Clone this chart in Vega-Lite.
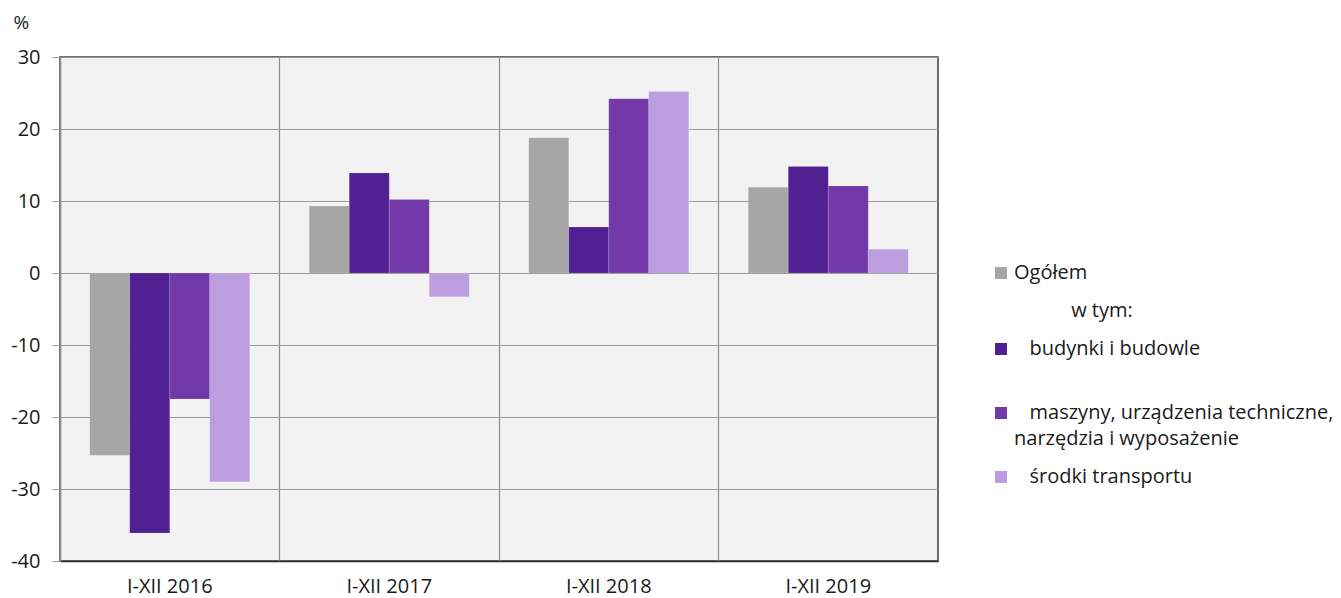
{
  "$schema": "https://vega.github.io/schema/vega-lite/v6.json",
  "width": 878,
  "height": 504,
  "autosize": {"type": "none"},
  "padding": {"left": 60, "top": 57, "right": 403, "bottom": 37},
  "background": "#ffffff",
  "config": {
    "font": "Open Sans",
    "view": {"fill": "#f2f2f2", "stroke": "#3c3c3c", "strokeWidth": 1.5},
    "axis": {"labelFont": "Open Sans", "labelFontSize": 20, "labelColor": "#1a1a1a", "titleFont": "Open Sans"},
    "style": {"guide-label": {"lineHeight": 26}}
  },
  "data": {
    "values": [
      {"okres": "I-XII 2016", "seria": "Ogółem", "wartosc": -25.3},
      {"okres": "I-XII 2016", "seria": "budynki i budowle", "wartosc": -36.1},
      {"okres": "I-XII 2016", "seria": "maszyny, urządzenia techniczne, narzędzia i wyposażenie", "wartosc": -17.5},
      {"okres": "I-XII 2016", "seria": "środki transportu", "wartosc": -29.0},
      {"okres": "I-XII 2017", "seria": "Ogółem", "wartosc": 9.3},
      {"okres": "I-XII 2017", "seria": "budynki i budowle", "wartosc": 13.9},
      {"okres": "I-XII 2017", "seria": "maszyny, urządzenia techniczne, narzędzia i wyposażenie", "wartosc": 10.2},
      {"okres": "I-XII 2017", "seria": "środki transportu", "wartosc": -3.3},
      {"okres": "I-XII 2018", "seria": "Ogółem", "wartosc": 18.8},
      {"okres": "I-XII 2018", "seria": "budynki i budowle", "wartosc": 6.4},
      {"okres": "I-XII 2018", "seria": "maszyny, urządzenia techniczne, narzędzia i wyposażenie", "wartosc": 24.2},
      {"okres": "I-XII 2018", "seria": "środki transportu", "wartosc": 25.2},
      {"okres": "I-XII 2019", "seria": "Ogółem", "wartosc": 11.9},
      {"okres": "I-XII 2019", "seria": "budynki i budowle", "wartosc": 14.8},
      {"okres": "I-XII 2019", "seria": "maszyny, urządzenia techniczne, narzędzia i wyposażenie", "wartosc": 12.1},
      {"okres": "I-XII 2019", "seria": "środki transportu", "wartosc": 3.3}
    ]
  },
  "mark": {"type": "bar", "stroke": "#ffffff", "strokeOpacity": 0.25, "strokeWidth": 0.5},
  "encoding": {
    "x": {
      "field": "okres", "type": "nominal", "sort": null,
      "scale": {"paddingInner": 0, "paddingOuter": 0},
      "axis": {
        "title": null, "labelAngle": 0, "bandPosition": 0, "grid": true,
        "gridColor": "#8c8c8c", "gridWidth": 1.2,
        "ticks": false, "labelPadding": 15,
        "domainColor": "#2e2e2e", "domainWidth": 1.5, "labelBound": false
      }
    },
    "xOffset": {
      "field": "seria", "type": "nominal", "sort": null,
      "scale": {"domain": ["Ogółem", "budynki i budowle", "maszyny, urządzenia techniczne, narzędzia i wyposażenie", "środki transportu"], "paddingInner": 0, "paddingOuter": 0.744}
    },
    "y": {
      "field": "wartosc", "type": "quantitative",
      "scale": {"domain": [-40, 30], "nice": false, "zero": false},
      "axis": {
        "values": [-40, -30, -20, -10, 0, 10, 20, 30],
        "labelExpr": "datum.value + ''",
        "title": "%", "titleAngle": 0, "titleAlign": "left", "titleBaseline": "middle",
        "titleX": -47, "titleY": -35, "titleFontSize": 19, "titleFontWeight": "normal", "titleColor": "#1a1a1a",
        "grid": true, "gridColor": "#9a9a9a", "gridWidth": 1.2,
        "tickSize": 8, "tickColor": "#9a9a9a", "labelPadding": 12,
        "domainColor": "#8c8c8c", "domainWidth": 1.5
      }
    },
    "color": {
      "field": "seria", "type": "nominal",
      "scale": {
        "domain": ["Ogółem", "w tym:", "budynki i budowle", "maszyny, urządzenia techniczne, narzędzia i wyposażenie", "środki transportu"],
        "range": ["#a6a6a6", "rgba(0,0,0,0)", "#512193", "#7339a8", "#bb9de0"]
      },
      "legend": {
        "title": null, "orient": "none", "legendX": 931, "legendY": 206,
        "symbolType": "square", "symbolSize": 144, "symbolStrokeWidth": 0,
        "labelFont": "Open Sans", "labelFontSize": 20, "labelColor": "#1a1a1a", "labelLimit": 500,
        "labelOffset": 3, "rowPadding": 18,
        "labelExpr": "datum.label == 'w tym:' ? '\u200b\u00a0\u00a0\u00a0\u00a0\u00a0\u00a0\u00a0\u00a0\u00a0\u00a0\u00a0w tym:' : datum.label == 'Ogółem' ? 'Ogółem' : datum.label == 'budynki i budowle' ? ['\u200b\u00a0\u00a0\u00a0budynki i budowle', ''] : datum.label == 'środki transportu' ? '\u200b\u00a0\u00a0\u00a0środki transportu' : ['\u200b\u00a0\u00a0\u00a0maszyny, urządzenia techniczne,', 'narzędzia i wyposażenie']"
      }
    }
  }
}
